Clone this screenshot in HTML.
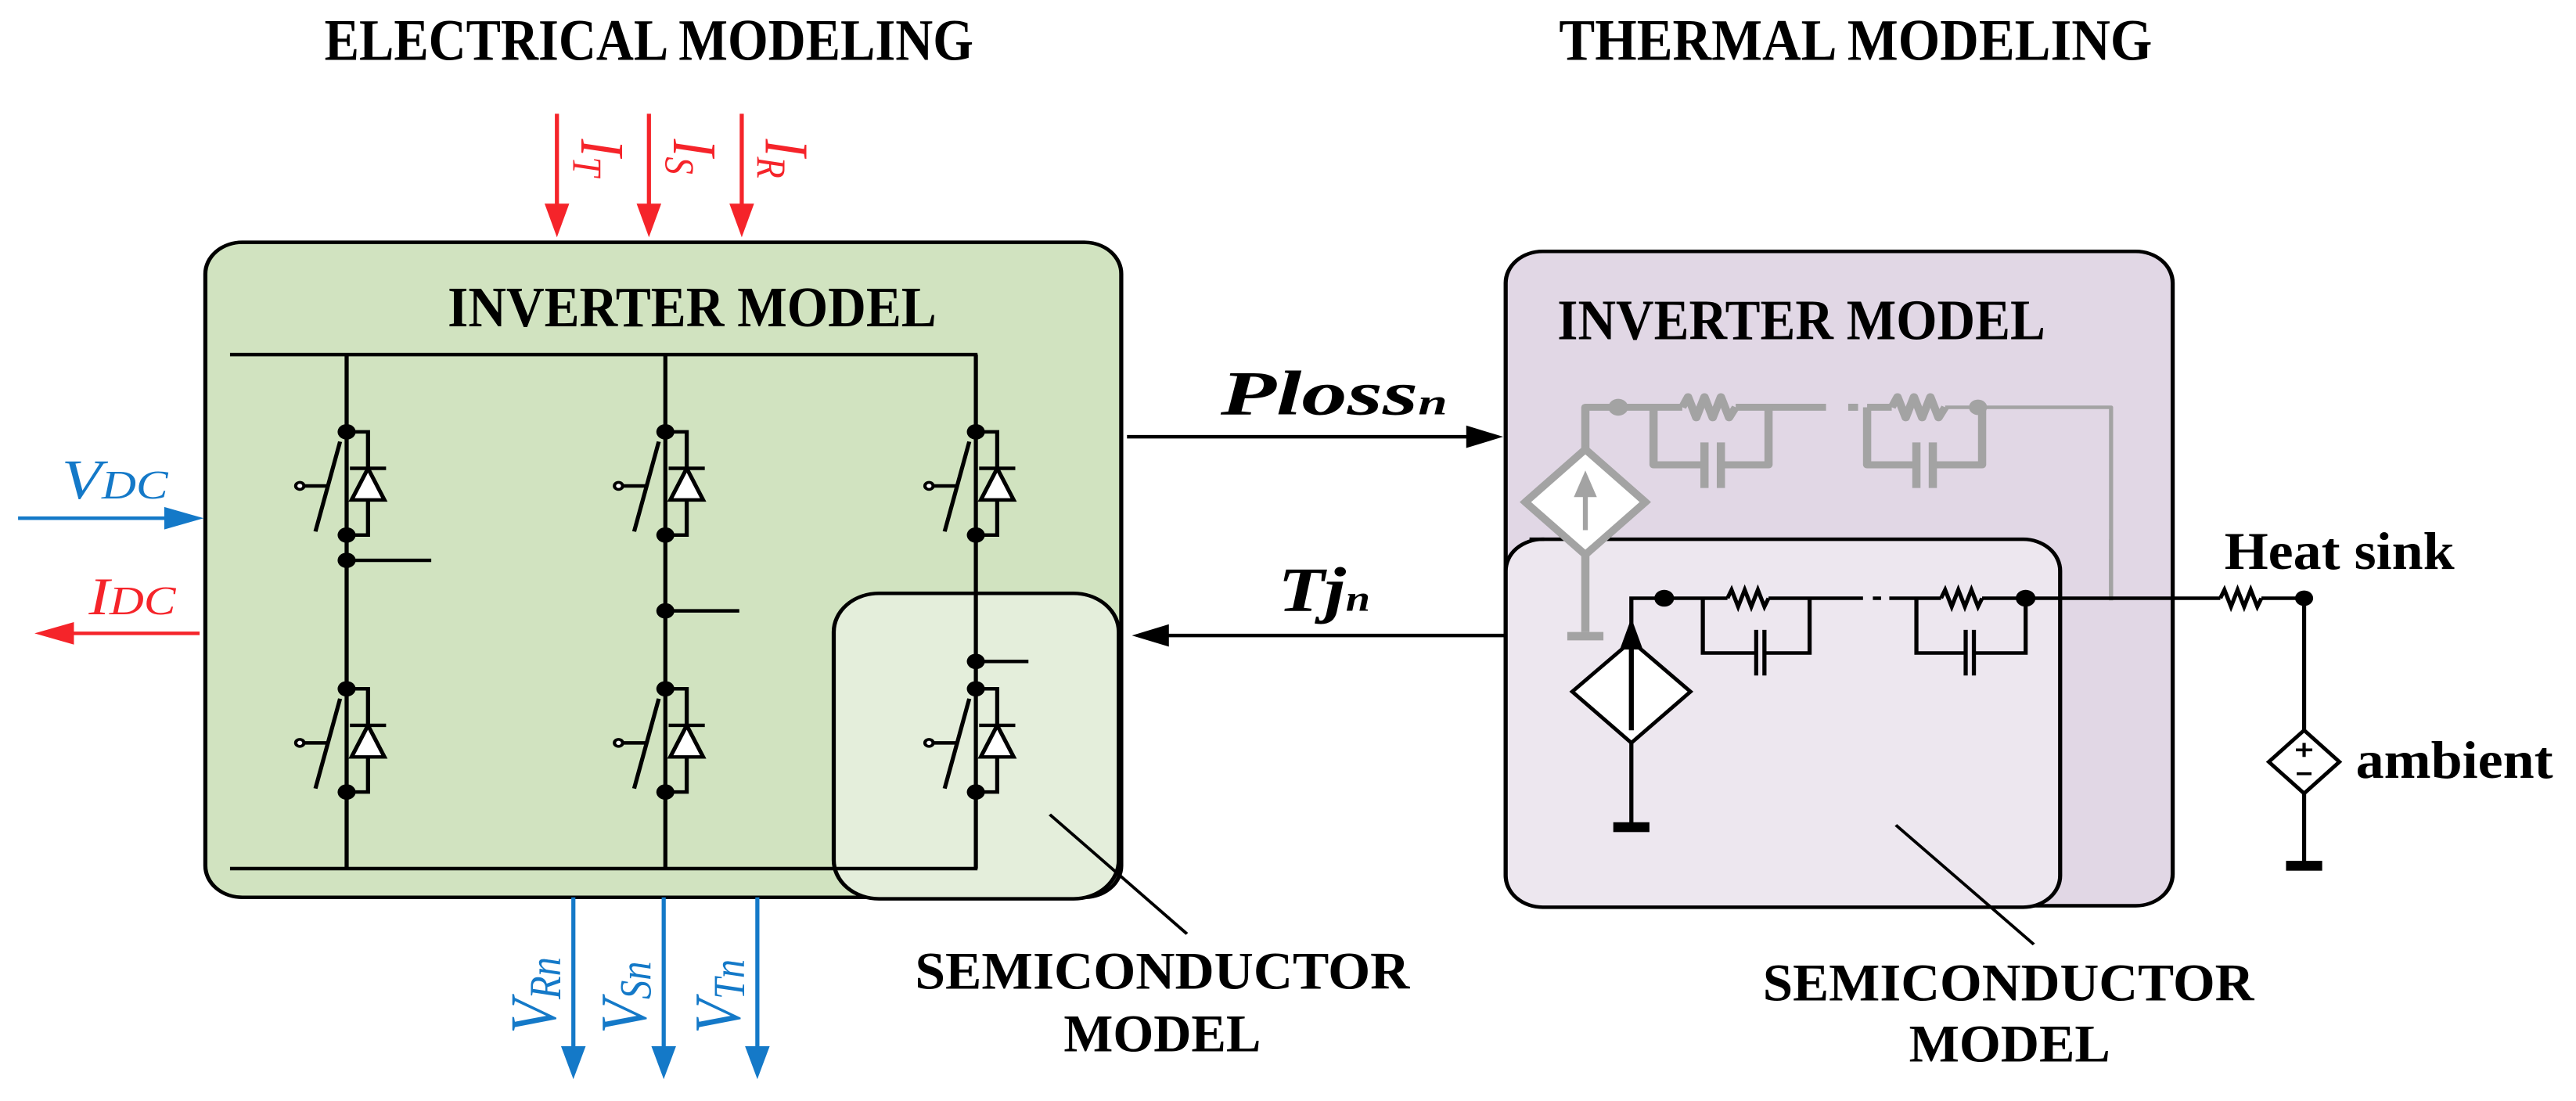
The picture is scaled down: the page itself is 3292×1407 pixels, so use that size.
<!DOCTYPE html>
<html><head><meta charset="utf-8"><style>
html,body{margin:0;padding:0;background:#fff;}
svg{display:block;}
text{font-family:"Liberation Serif",serif;}
</style></head><body>
<svg width="3292" height="1407" viewBox="0 0 3136 1568" preserveAspectRatio="none" xmlns="http://www.w3.org/2000/svg">
<defs>
<g id="sw">
  <polyline points="0,0 26,0 26,147 0,147" fill="none" stroke="#000" stroke-width="5"/>
  <polygon points="6,97 46,97 26,52" fill="#fff" stroke="#000" stroke-width="5"/>
  <line x1="4" y1="52" x2="48" y2="52" stroke="#000" stroke-width="5"/>
  <line x1="-8" y1="14" x2="-38" y2="142" stroke="#000" stroke-width="5"/>
  <circle cx="-57" cy="77" r="5" fill="#fff" stroke="#000" stroke-width="4"/>
  <line x1="-52" y1="77" x2="-22" y2="77" stroke="#000" stroke-width="5"/>
  <circle cx="0" cy="0" r="11" fill="#000"/>
  <circle cx="0" cy="147" r="11" fill="#000"/>
</g>
</defs>

<!-- titles -->
<text x="395" y="85" font-size="84" font-weight="bold" textLength="790" lengthAdjust="spacingAndGlyphs">ELECTRICAL MODELING</text>
<text x="1898" y="85" font-size="84" font-weight="bold" textLength="722" lengthAdjust="spacingAndGlyphs">THERMAL MODELING</text>

<!-- green box -->
<rect x="250" y="345" width="1115" height="933" rx="45" fill="#d1e3c0" stroke="#000" stroke-width="5"/>
<rect x="1015" y="845" width="347" height="435" rx="55" fill="#e4eedb" stroke="#000" stroke-width="5"/>
<text x="545" y="465" font-size="82" font-weight="bold" textLength="595" lengthAdjust="spacingAndGlyphs">INVERTER MODEL</text>

<!-- buses -->
<g stroke="#000" stroke-width="5" fill="none">
<line x1="280" y1="505" x2="1190" y2="505"/>
<line x1="280" y1="1237" x2="1190" y2="1237"/>
<line x1="422" y1="505" x2="422" y2="1237"/>
<line x1="810" y1="505" x2="810" y2="1237"/>
<line x1="1188" y1="505" x2="1188" y2="1237"/>
<line x1="422" y1="798" x2="525" y2="798"/>
<line x1="810" y1="870" x2="900" y2="870"/>
<line x1="1188" y1="942" x2="1252" y2="942"/>
</g>
<use href="#sw" x="422" y="615"/>
<use href="#sw" x="810" y="615"/>
<use href="#sw" x="1188" y="615"/>
<use href="#sw" x="422" y="981"/>
<use href="#sw" x="810" y="981"/>
<use href="#sw" x="1188" y="981"/>
<circle cx="422" cy="798" r="11"/>
<circle cx="810" cy="870" r="11"/>
<circle cx="1188" cy="942" r="11"/>

<!-- leader left -->
<line x1="1278" y1="1160" x2="1445" y2="1330" stroke="#000" stroke-width="4"/>
<text x="1114" y="1408" font-size="76" font-weight="bold" textLength="602" lengthAdjust="spacingAndGlyphs">SEMICONDUCTOR</text>
<text x="1295" y="1497" font-size="76" font-weight="bold" textLength="240" lengthAdjust="spacingAndGlyphs">MODEL</text>

<!-- red input arrows -->
<g stroke="#f5242a" stroke-width="5" fill="#f5242a">
<line x1="678" y1="162" x2="678" y2="295"/><polygon points="663,290 693,290 678,338" stroke="none"/>
<line x1="790" y1="162" x2="790" y2="295"/><polygon points="775,290 805,290 790,338" stroke="none"/>
<line x1="903" y1="162" x2="903" y2="295"/><polygon points="888,290 918,290 903,338" stroke="none"/>
<line x1="243" y1="902" x2="85" y2="902"/><polygon points="90,886 90,918 42,902" stroke="none"/>
</g>
<g fill="#f5242a" font-style="italic" font-size="76">
<text transform="translate(708,198) rotate(90)">I<tspan font-size="50" dy="10">T</tspan></text>
<text transform="translate(820,198) rotate(90)">I<tspan font-size="50" dy="10">S</tspan></text>
<text transform="translate(932,198) rotate(90)">I<tspan font-size="50" dy="10">R</tspan></text>
<text x="108" y="875">I<tspan font-size="58">DC</tspan></text>
</g>

<!-- blue arrows -->
<g stroke="#1479c8" stroke-width="5" fill="#1479c8">
<line x1="22" y1="738" x2="205" y2="738"/><polygon points="200,722 200,754 248,738" stroke="none"/>
<line x1="698" y1="1278" x2="698" y2="1495"/><polygon points="683,1490 713,1490 698,1537" stroke="none"/>
<line x1="808" y1="1278" x2="808" y2="1495"/><polygon points="793,1490 823,1490 808,1537" stroke="none"/>
<line x1="922" y1="1278" x2="922" y2="1495"/><polygon points="907,1490 937,1490 922,1537" stroke="none"/>
</g>
<g fill="#1479c8" font-style="italic" font-size="80">
<text x="75" y="710">V<tspan font-size="58">DC</tspan></text>
<text transform="translate(676,1472) rotate(-90)">V<tspan font-size="54" dy="6">Rn</tspan></text>
<text transform="translate(786,1472) rotate(-90)">V<tspan font-size="54" dy="6">Sn</tspan></text>
<text transform="translate(900,1472) rotate(-90)">V<tspan font-size="54" dy="6">Tn</tspan></text>
</g>

<!-- Ploss / Tj arrows -->
<g stroke="#000" stroke-width="5" fill="#000">
<line x1="1372" y1="622" x2="1790" y2="622"/><polygon points="1785,606 1785,638 1830,622" stroke="none"/>
<line x1="1833" y1="905" x2="1420" y2="905"/><polygon points="1423,889 1423,921 1378,905" stroke="none"/>
</g>
<text x="1486" y="590" font-size="90" font-weight="bold" font-style="italic" textLength="276" lengthAdjust="spacingAndGlyphs">Ploss<tspan font-size="52" font-style="italic">n</tspan></text>
<text x="1556" y="870" font-size="90" font-weight="bold" font-style="italic" textLength="112" lengthAdjust="spacingAndGlyphs">Tj<tspan font-size="52">n</tspan></text>

<!-- purple boxes -->
<rect x="1833" y="358" width="812" height="932" rx="45" fill="#e1d7e5" stroke="#000" stroke-width="5"/>
<text x="1896" y="483" font-size="82" font-weight="bold" textLength="594" lengthAdjust="spacingAndGlyphs">INVERTER MODEL</text>

<!-- grey circuit -->
<g stroke="#a3a3a3" stroke-width="10" fill="none" stroke-linejoin="round">
<polyline points="1930,640 1930,580 1970,580"/>
<line x1="1970" y1="580" x2="2048" y2="580"/>
<polyline points="2048,580 2055,565 2065,595 2075,565 2085,595 2095,565 2105,595 2113,580"/>
<line x1="2113" y1="580" x2="2223" y2="580"/>
<line x1="2250" y1="580" x2="2262" y2="580"/>
<line x1="2273" y1="580" x2="2303" y2="580"/>
<polyline points="2303,580 2310,565 2320,595 2330,565 2340,595 2350,565 2360,595 2368,580"/>
<polyline points="2013,580 2013,662 2075,662"/>
<polyline points="2095,662 2153,662 2153,580"/>
<line x1="2075" y1="630" x2="2075" y2="695"/>
<line x1="2095" y1="630" x2="2095" y2="695"/>
<polyline points="2273,580 2273,662 2333,662"/>
<polyline points="2353,662 2413,662 2413,580"/>
<line x1="2333" y1="630" x2="2333" y2="695"/>
<line x1="2353" y1="630" x2="2353" y2="695"/>
<polyline points="2368,580 2570,580 2570,855" stroke-width="5"/>
<polygon points="1930,640 2003,715 1930,790 1857,715" fill="#fff"/>
</g>
<polygon points="1930,670 1916,708 1944,708" fill="#a3a3a3"/>
<line x1="1930" y1="700" x2="1930" y2="755" stroke="#a3a3a3" stroke-width="6"/>
<circle cx="1970" cy="580" r="12" fill="#a3a3a3"/>
<circle cx="2408" cy="580" r="11" fill="#a3a3a3"/>

<!-- semiconductor box (thermal) -->
<rect x="1833" y="768" width="675" height="524" rx="45" fill="#ede7ef" stroke="#000" stroke-width="5"/>
<g stroke="#a3a3a3" stroke-width="10" fill="none">
<polygon points="1930,640 2003,715 1930,790 1857,715" fill="#fff"/>
<line x1="1930" y1="790" x2="1930" y2="900"/>
<line x1="1908" y1="906" x2="1952" y2="906" stroke-width="12"/>
<line x1="2570" y1="768" x2="2570" y2="855" stroke-width="5"/>
</g>
<polygon points="1930,670 1916,708 1944,708" fill="#a3a3a3"/>
<line x1="1930" y1="700" x2="1930" y2="755" stroke="#a3a3a3" stroke-width="6"/>
<line x1="1862" y1="768" x2="1880" y2="768" stroke="#000" stroke-width="5"/>

<!-- black thermal circuit -->
<g stroke="#000" stroke-width="5" fill="none" stroke-linejoin="miter">
<polyline points="1986,913 1986,852 2026,852"/>
<line x1="2026" y1="852" x2="2103" y2="852"/>
<polyline points="2103,852 2108,840 2116,864 2124,840 2132,864 2140,840 2148,864 2153,852"/>
<line x1="2153" y1="852" x2="2268" y2="852"/>
<line x1="2280" y1="852" x2="2290" y2="852"/>
<line x1="2300" y1="852" x2="2363" y2="852"/>
<polyline points="2363,852 2368,840 2376,864 2384,840 2392,864 2400,840 2408,864 2413,852"/>
<polyline points="2073,852 2073,930 2138,930"/>
<polyline points="2148,930 2203,930 2203,852"/>
<line x1="2138" y1="897" x2="2138" y2="962"/>
<line x1="2148" y1="897" x2="2148" y2="962"/>
<polyline points="2333,852 2333,930 2393,930"/>
<polyline points="2403,930 2466,930 2466,852"/>
<line x1="2393" y1="897" x2="2393" y2="962"/>
<line x1="2403" y1="897" x2="2403" y2="962"/>
<line x1="2413" y1="852" x2="2703" y2="852"/>
<polyline points="2703,852 2708,840 2716,864 2724,840 2732,864 2740,840 2748,864 2753,852"/>
<line x1="2753" y1="852" x2="2805" y2="852"/>
<polygon points="1986,913 2058,985 1986,1058 1914,985" fill="#fff"/>
<line x1="1986" y1="1058" x2="1986" y2="1175"/>
<line x1="2805" y1="852" x2="2805" y2="1040"/>
<polygon points="2805,1040 2848,1085 2805,1130 2762,1085" fill="#fff"/>
<line x1="2805" y1="1130" x2="2805" y2="1230"/>
<line x1="2795" y1="1068" x2="2815" y2="1068" stroke-width="4"/>
<line x1="2805" y1="1058" x2="2805" y2="1078" stroke-width="4"/>
<line x1="2796" y1="1102" x2="2814" y2="1102" stroke-width="4"/>
</g>
<rect x="1964" y="1171" width="44" height="14" fill="#000"/>
<rect x="2783" y="1226" width="44" height="14" fill="#000"/>
<polygon points="1986,880 1972,925 2000,925" fill="#000"/>
<line x1="1986" y1="915" x2="1986" y2="1040" stroke="#000" stroke-width="6"/>
<circle cx="2026" cy="852" r="12"/>
<circle cx="2466" cy="852" r="12"/>
<circle cx="2805" cy="852" r="11"/>

<text x="2708" y="810" font-size="76" font-weight="bold" textLength="280" lengthAdjust="spacingAndGlyphs">Heat sink</text>
<text x="2868" y="1108" font-size="76" font-weight="bold" textLength="240" lengthAdjust="spacingAndGlyphs">ambient</text>

<line x1="2308" y1="1175" x2="2476" y2="1345" stroke="#000" stroke-width="4"/>
<text x="2146" y="1425" font-size="76" font-weight="bold" textLength="598" lengthAdjust="spacingAndGlyphs">SEMICONDUCTOR</text>
<text x="2324" y="1512" font-size="76" font-weight="bold" textLength="245" lengthAdjust="spacingAndGlyphs">MODEL</text>
</svg>
</body></html>
